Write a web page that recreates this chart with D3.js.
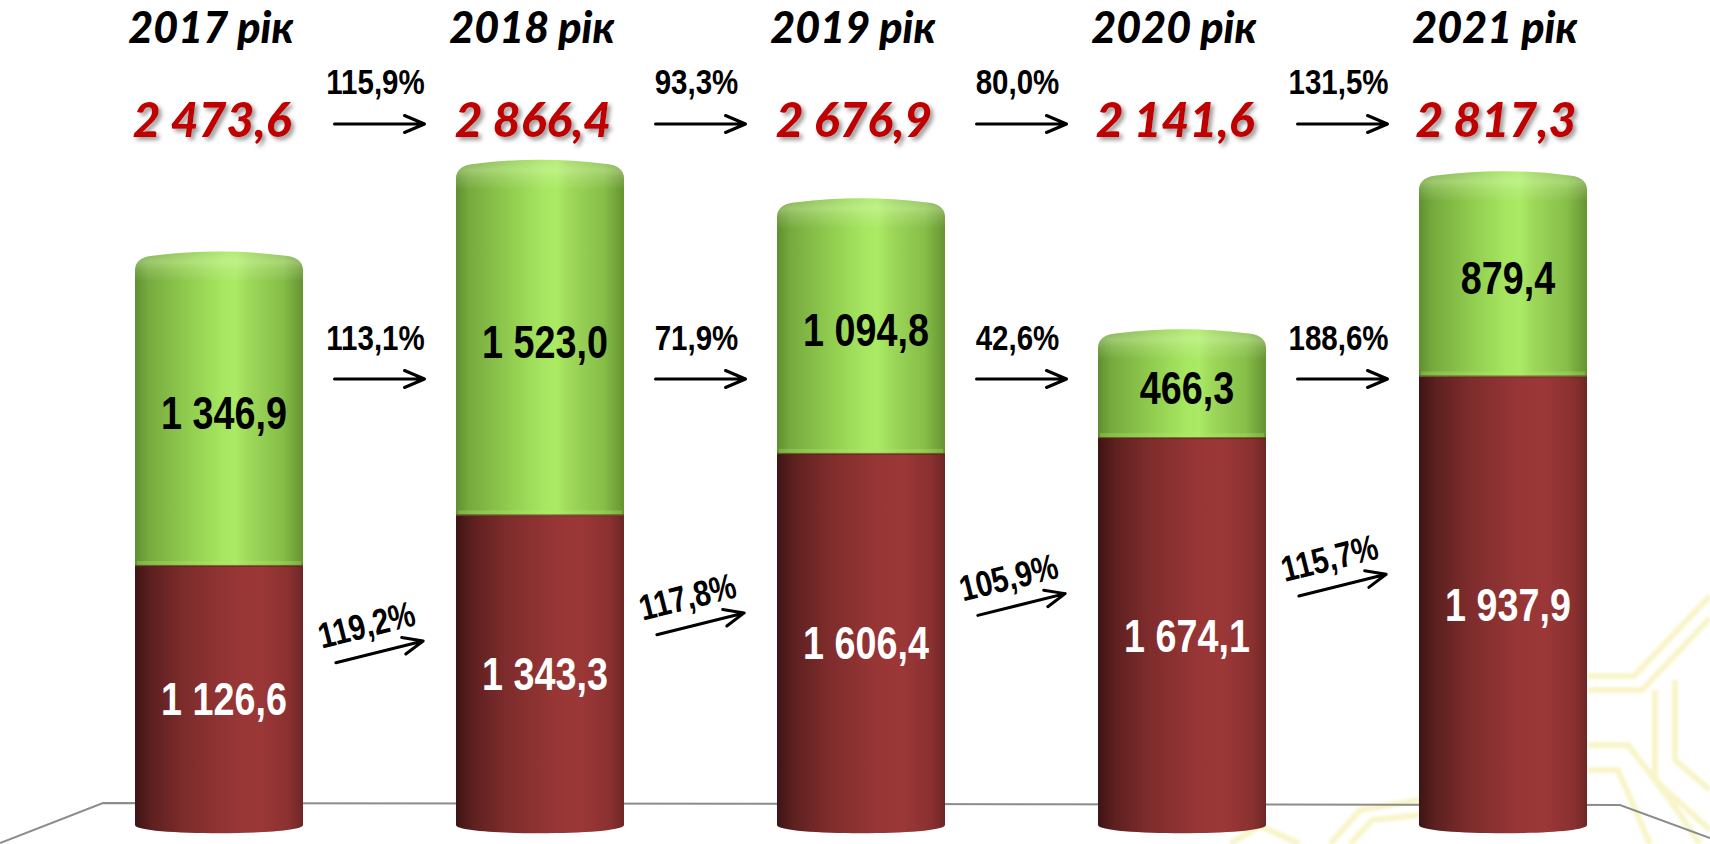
<!DOCTYPE html>
<html>
<head>
<meta charset="utf-8">
<script src="https://cdn.jsdelivr.net/npm/d3@7"></script>
<style>
  html, body { margin: 0; padding: 0; background: #ffffff; }
  svg { display: block; }
</style>
</head>
<body>
<svg id="chart" width="1710" height="844"></svg>
<script>
// ---------------- DATA ----------------
const years = ["2017 рік", "2018 рік", "2019 рік", "2020 рік", "2021 рік"];
const totals = [2473.6, 2866.4, 2676.9, 2141.6, 2817.3];
const lowerValues = [1126.6, 1343.3, 1606.4, 1674.1, 1937.9];   // red segment
const upperValues = [1346.9, 1523.0, 1094.8, 466.3, 879.4];     // green segment
const growthTotal = ["115,9%", "93,3%", "80,0%", "131,5%"];
const growthUpper = ["113,1%", "71,9%", "42,6%", "188,6%"];
const growthLower = ["119,2%", "117,8%", "105,9%", "115,7%"];

// ---------------- SETUP ----------------
const svg = d3.select("#chart");
const locale = d3.formatLocale({decimal: ",", thousands: " ", grouping: [3], currency: ["", ""]});
const fmt = locale.format(",.1f");

function fontAvailable(name) {
  const c = document.createElement("canvas").getContext("2d");
  const s = "1 234,5% abcdefghij";
  c.font = "bold 40px monospace"; const a = c.measureText(s).width;
  c.font = "bold 40px '" + name + "', monospace"; const b = c.measureText(s).width;
  c.font = "bold 40px serif"; const a2 = c.measureText(s).width;
  c.font = "bold 40px '" + name + "', serif"; const b2 = c.measureText(s).width;
  return a !== b || a2 !== b2;
}
const hasNarrow = fontAvailable("Liberation Sans Narrow");
const narrowFont = hasNarrow ? "'Liberation Sans Narrow', 'Arial Narrow', sans-serif" : "'Liberation Sans', Arial, sans-serif";
const narrowScale = hasNarrow ? 1 : 0.82;
const titleFont = "Lato, 'Open Sans', sans-serif";

const x = d3.scalePoint().domain(years).range([219, 1503]);
const y = d3.scaleLinear().domain([0, 3000]).range([829, 829 - 0.2335 * 3000]);
const barW = 168;

// ---------------- DEFS ----------------
const defs = svg.append("defs");
const gGreen = defs.append("linearGradient").attr("id", "gGreen").attr("x1", 0).attr("x2", 1).attr("y1", 0).attr("y2", 0);
[[0, "#5f8f30"], [0.08, "#76aa3e"], [0.3, "#8fca4e"], [0.52, "#a6e660"], [0.6, "#aaea64"], [0.68, "#9ed85a"], [0.88, "#86be48"], [0.97, "#6e9e38"], [1, "#66942f"]]
  .forEach(d => gGreen.append("stop").attr("offset", d[0]).attr("stop-color", d[1]));
const gRed = defs.append("linearGradient").attr("id", "gRed").attr("x1", 0).attr("x2", 1).attr("y1", 0).attr("y2", 0);
[[0, "#3e1414"], [0.1, "#5e2020"], [0.3, "#7e2c2c"], [0.6, "#983636"], [0.75, "#9b3737"], [0.92, "#8a3030"], [1, "#6e2626"]]
  .forEach(d => gRed.append("stop").attr("offset", d[0]).attr("stop-color", d[1]));
const gCap = defs.append("linearGradient").attr("id", "gCap").attr("x1", 0).attr("x2", 0).attr("y1", 0).attr("y2", 1);
[[0, "rgba(255,255,255,0.10)"], [0.35, "rgba(230,255,200,0.35)"], [0.6, "rgba(230,255,200,0.18)"], [1, "rgba(255,255,255,0)"]]
  .forEach(d => gCap.append("stop").attr("offset", d[0]).attr("stop-color", d[1]));
const shadow = defs.append("filter").attr("id", "shadow").attr("x", "-20%").attr("y", "-20%").attr("width", "140%").attr("height", "160%");
shadow.append("feDropShadow").attr("dx", 3).attr("dy", 3).attr("stdDeviation", 2).attr("flood-color", "#7a7a7a").attr("flood-opacity", 0.75);
const soft = defs.append("filter").attr("id", "soft");
soft.append("feGaussianBlur").attr("stdDeviation", 1.5);

// ---------------- BACKGROUND ORNAMENT ----------------
const orn = svg.append("g").attr("fill", "none").attr("stroke", "#f3eea6").attr("opacity", 0.6).attr("filter", "url(#soft)");
const ornLines = [
  [[1588, 676], [1634, 676], [1710, 596]],
  [[1588, 690], [1642, 690], [1710, 618]],
  [[1588, 745], [1628, 745], [1670, 800], [1700, 844]],
  [[1588, 770], [1618, 770], [1650, 844]],
  [[1655, 690], [1655, 780], [1710, 830]],
  [[1675, 680], [1675, 760], [1710, 790]],
  [[1330, 844], [1360, 810], [1420, 800]],
  [[1350, 844], [1372, 820], [1420, 815]],
  [[1230, 844], [1260, 826], [1300, 844]]
];
orn.selectAll("path").data(ornLines).join("path")
  .attr("d", d3.line()).attr("stroke-width", 6);

// ---------------- FLOOR ----------------
svg.append("path")
  .attr("d", d3.line()([[0, 843], [103, 803], [1620, 805], [1710, 838]]))
  .attr("stroke", "#8c8c8c").attr("stroke-width", 2).attr("fill", "none");

// ---------------- BARS ----------------
function bodyPath(cx, yTop, yBot, rounded, bottomCap) {
  const l = cx - barW / 2, r = cx + barW / 2;
  const p = d3.path();
  if (rounded) {
    p.moveTo(l, yTop + 18);
    p.quadraticCurveTo(l + 1, yTop + 5, l + 20, yTop + 4);
    p.quadraticCurveTo(cx, yTop - 4, r - 20, yTop + 4);
    p.quadraticCurveTo(r - 1, yTop + 5, r, yTop + 18);
  } else {
    p.moveTo(l, yTop);
    p.lineTo(r, yTop);
  }
  if (bottomCap) {
    p.lineTo(r, yBot - 4);
    p.bezierCurveTo(r, yBot + 7, l, yBot + 7, l, yBot - 4);
  } else {
    p.lineTo(r, yBot);
    p.lineTo(l, yBot);
  }
  p.closePath();
  return p.toString();
}

const bars = svg.append("g");
years.forEach((yr, i) => {
  const cx = x(yr);
  const yBound = y(lowerValues[i]);
  const yTopV = y(lowerValues[i] + upperValues[i]);
  bars.append("path").attr("d", bodyPath(cx, yBound, y(0), false, true)).attr("fill", "url(#gRed)");
  bars.append("path").attr("d", bodyPath(cx, yTopV, yBound, true, false)).attr("fill", "url(#gGreen)");
  bars.append("path").attr("d", bodyPath(cx, yTopV, yTopV + 30, true, false)).attr("fill", "url(#gCap)");
  bars.append("rect").attr("x", cx - barW / 2 + 2).attr("y", yBound - 5).attr("width", barW - 4).attr("height", 4)
    .attr("fill", "#b4ec72").attr("opacity", 0.3);
  bars.append("rect").attr("x", cx - barW / 2).attr("y", yBound - 1).attr("width", barW).attr("height", 2)
    .attr("fill", "#5a2a14").attr("opacity", 0.6);
});

// ---------------- LABELS IN BARS ----------------
function narrowText(g, tx, ty, txt, size, fill) {
  return g.append("text")
    .attr("transform", `translate(${tx},${ty}) scale(${narrowScale},1)`)
    .attr("text-anchor", "middle")
    .attr("font-family", narrowFont)
    .attr("font-weight", "bold")
    .attr("font-size", size)
    .attr("fill", fill)
    .text(txt);
}
const lab = svg.append("g");
years.forEach((yr, i) => {
  const cx = x(yr) + 5;
  const yBound = y(lowerValues[i]);
  const yTopV = y(lowerValues[i] + upperValues[i]);
  narrowText(lab, cx, (yBound + y(0)) / 2 + 18, fmt(lowerValues[i]), 46, "#ffffff");
  narrowText(lab, cx, (yTopV + yBound) / 2 + 20, fmt(upperValues[i]), 46, "#000000");
});

// ---------------- TITLES & TOTALS ----------------
const heads = svg.append("g");
years.forEach((yr, i) => {
  heads.append("text")
    .attr("x", x(yr) - 8).attr("y", 43)
    .attr("text-anchor", "middle")
    .attr("font-family", titleFont).attr("font-weight", 900).attr("font-style", "italic")
    .attr("font-size", 43).attr("fill", "#000")
    .text(yr);
  heads.append("text")
    .attr("x", x(yr) - 7).attr("y", 137)
    .attr("text-anchor", "middle")
    .attr("font-family", titleFont).attr("font-weight", 900).attr("font-style", "italic")
    .attr("font-size", 48).attr("fill", "#c00000")
    .attr("filter", "url(#shadow)")
    .text(fmt(totals[i]));
});

// ---------------- ARROWS ----------------
function arrow(g, cx, cy, angleDeg, label, lx, ly) {
  const a = g.append("g").attr("transform", `translate(${cx},${cy}) rotate(${angleDeg})`);
  a.append("path")
    .attr("d", `M-45,0 L45,0 M25,-8.5 L45,0 L25,8.5`)
    .attr("fill", "none").attr("stroke", "#000").attr("stroke-width", 3)
    .attr("stroke-linecap", "round").attr("stroke-linejoin", "round");
  narrowText(a, lx, ly, label, 36, "#000");
}
const arr = svg.append("g");
for (let i = 0; i < years.length - 1; i++) {
  const mx = (x(years[i]) + x(years[i + 1])) / 2;
  arrow(arr, mx, 124, 0, growthTotal[i], -4, -30);
  arrow(arr, mx, 379, 0, growthUpper[i], -4, -29);
  const midA = (y(lowerValues[i]) + y(0)) / 2, midB = (y(lowerValues[i + 1]) + y(0)) / 2;
  const ay = (midA + midB) / 2 - 33;
  arrow(arr, mx, ay, -14, growthLower[i], -6, -17);
}
</script>
</body>
</html>
